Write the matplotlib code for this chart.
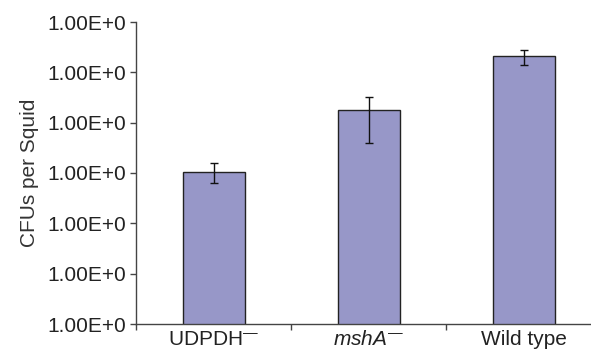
import numpy as np
import matplotlib
matplotlib.use('Agg')
import matplotlib.pyplot as plt
from matplotlib.ticker import FixedLocator, FixedFormatter, NullFormatter

plt.rcParams['font.family'] = ['Liberation Sans', 'DejaVu Sans']
plt.rcParams['mathtext.fontset'] = 'custom'
plt.rcParams['mathtext.rm'] = 'Liberation Sans'
plt.rcParams['mathtext.it'] = 'Liberation Sans:italic'

# strains and read-off CFU values (log scale)
strains = ['UDPDH$^{\u2014}$', r'$\mathit{mshA}^{' + '\u2014' + '}$', 'Wild type']
cfuMean = [1.07e3, 1.8e4, 2.1e5]
cfuLow = [6.3e2, 3.9e3, 1.4e5]
cfuHigh = [1.55e3, 3.2e4, 2.8e5]
yTicks = [1e0, 1e1, 1e2, 1e3, 1e4, 1e5, 1e6]
yTickLabels = ['1.00E+0'] * 7

fig = plt.figure(figsize=(5.91, 3.56), dpi=100)
ax = fig.add_axes([136 / 591, 32 / 356, 465 / 591, 302 / 356])

xPos = np.arange(len(strains))
mean = np.array(cfuMean)
errLow = mean - np.array(cfuLow)
errHigh = np.array(cfuHigh) - mean

ax.bar(xPos, mean, width=0.4, color='#9797c8', edgecolor='#222222', linewidth=1.0, zorder=2)
ax.errorbar(xPos, mean, yerr=[errLow, errHigh], fmt='none', ecolor='#111111',
            elinewidth=1.0, capsize=3, capthick=1.0, zorder=3)

ax.set_yscale('log')
ax.set_ylim(1e0, 1e6)
ax.set_xlim(-0.5, 2.5)
ax.yaxis.set_major_locator(FixedLocator(yTicks))
ax.yaxis.set_major_formatter(FixedFormatter(yTickLabels))
ax.yaxis.set_minor_locator(FixedLocator([]))
ax.yaxis.set_minor_formatter(NullFormatter())

ax.xaxis.set_major_locator(FixedLocator([-0.5, 0.5, 1.5, 2.5]))
ax.xaxis.set_major_formatter(NullFormatter())
ax.xaxis.set_minor_locator(FixedLocator(list(xPos)))
ax.xaxis.set_minor_formatter(FixedFormatter(strains))
ax.tick_params(axis='x', which='minor', length=0, labelsize=15, pad=4, colors='#222222')
ax.tick_params(axis='x', which='major', length=4, width=1, color='#444444')
ax.tick_params(axis='y', which='major', length=4, width=1, color='#444444',
               labelsize=15, labelcolor='#222222', pad=3)

ax.set_ylabel('CFUs per Squid', fontsize=15, color='#333333', labelpad=6)

for side in ['top', 'right']:
    ax.spines[side].set_visible(False)
for side in ['left', 'bottom']:
    ax.spines[side].set_color('#444444')
    ax.spines[side].set_linewidth(1.0)

fig.savefig('out.png', dpi=100)
